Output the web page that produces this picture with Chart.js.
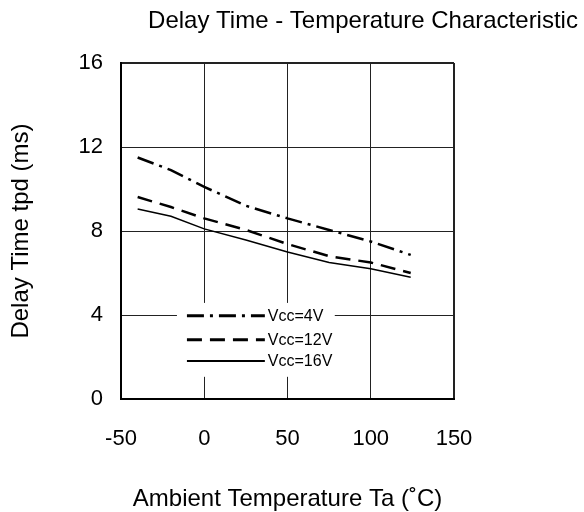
<!DOCTYPE html>
<html>
<head>
<meta charset="utf-8">
<script src="https://cdn.jsdelivr.net/npm/chart.js@4.4.1/dist/chart.umd.min.js"></script>
<style>
  html, body { margin: 0; padding: 0; background: #fff; }
</style>
</head>
<body>
<canvas id="delayChart" width="584" height="512"></canvas>
<script>
const temps = [-40, -20, 0, 25, 50, 75, 100, 124];

// delay time tpd (ms) per supply voltage
const vcc4V  = [11.5, 10.9, 10.1, 9.2, 8.6, 8.05, 7.5, 6.86];
const vcc12V = [9.62, 9.14, 8.6, 8.05, 7.38, 6.8, 6.5, 6.0];
const vcc16V = [9.05, 8.7, 8.1, 7.57, 7.0, 6.5, 6.2, 5.8];

const seriesLabels = ['Vcc=4V', 'Vcc=12V', 'Vcc=16V'];
const xTicks = [-50, 0, 50, 100, 150];
const yTicks = [0, 4, 8, 12, 16];

const FONT = "'Liberation Sans', Arial, sans-serif";

const toPoints = (vals) => vals.map((v, i) => ({ x: temps[i], y: v }));

// title + in-plot legend, drawn by hand since the legend sits inside the frame
const extras = {
  id: 'extras',
  afterDraw(chart) {
    const { ctx, chartArea: a } = chart;
    ctx.save();
    ctx.fillStyle = '#000';
    ctx.font = '24px ' + FONT;
    ctx.textAlign = 'center';
    ctx.textBaseline = 'middle';
    ctx.fillText('Delay Time - Temperature Characteristic', 363, 21);

    const w = a.right - a.left, h = a.bottom - a.top;
    const bx = a.left + w * 0.168, by = a.top + h * 0.714;
    const bw = w * 0.474, bh = h * 0.22;
    ctx.fillStyle = '#fff';
    ctx.fillRect(bx, by, bw, bh);

    const lx0 = a.left + w * 0.198, lx1 = a.left + w * 0.432;
    const rows = [0.752, 0.824, 0.887];
    chart.data.datasets.forEach((ds, i) => {
      const y = a.top + h * rows[i];
      ctx.strokeStyle = '#000';
      ctx.lineWidth = ds.borderWidth + 0.5;
      ctx.setLineDash(ds.borderDash || []);
      ctx.beginPath();
      ctx.moveTo(lx0, y);
      ctx.lineTo(lx1, y);
      ctx.stroke();
      ctx.setLineDash([]);
      ctx.fillStyle = '#000';
      ctx.font = '16px ' + FONT;
      ctx.textAlign = 'left';
      ctx.textBaseline = 'middle';
      ctx.fillText(ds.label, lx1 + 3, y + 1);
    });
    ctx.restore();
  }
};

new Chart(document.getElementById('delayChart'), {
  type: 'line',
  data: {
    datasets: [
      { label: seriesLabels[0], data: toPoints(vcc4V), borderColor: '#000', borderWidth: 2.5, borderDash: [17, 6, 3, 6] },
      { label: seriesLabels[1], data: toPoints(vcc12V), borderColor: '#000', borderWidth: 2.5, borderDash: [15, 8] },
      { label: seriesLabels[2], data: toPoints(vcc16V), borderColor: '#000', borderWidth: 1.5 }
    ]
  },
  options: {
    responsive: false,
    animation: false,
    devicePixelRatio: 1,
    layout: { padding: { top: 63, right: 130, left: 0, bottom: 0 } },
    elements: { point: { radius: 0 }, line: { tension: 0 } },
    plugins: { legend: { display: false }, tooltip: { enabled: false } },
    scales: {
      x: {
        type: 'linear',
        min: -50,
        max: 150,
        afterBuildTicks: (s) => { s.ticks = xTicks.map(v => ({ value: v })); },
        afterFit: (s) => { s.height = 113; },
        ticks: { color: '#000', padding: 27, font: { family: FONT, size: 22 } },
        grid: { color: '#222', drawTicks: false, lineWidth: (c) => (c.tick && c.tick.value === 150 ? 2 : 1) },
        border: { color: '#000', width: 2 },
        title: {
          display: true,
          text: 'Ambient Temperature Ta (˚C)',
          color: '#000',
          font: { family: FONT, size: 24, lineHeight: 1 },
          padding: { top: 0, bottom: 1 }
        }
      },
      y: {
        min: 0,
        max: 16,
        afterBuildTicks: (s) => { s.ticks = yTicks.map(v => ({ value: v })); },
        afterFit: (s) => { s.width = 121; },
        ticks: { color: '#000', padding: 18, font: { family: FONT, size: 22 } },
        grid: { color: '#222', drawTicks: false, lineWidth: (c) => (c.tick && c.tick.value === 16 ? 2 : 1) },
        border: { color: '#000', width: 2 },
        title: {
          display: true,
          text: 'Delay Time tpd (ms)',
          color: '#000',
          font: { family: FONT, size: 24, lineHeight: 1 },
          padding: { top: 9, bottom: 0 }
        }
      }
    }
  },
  plugins: [extras]
});
</script>
</body>
</html>
